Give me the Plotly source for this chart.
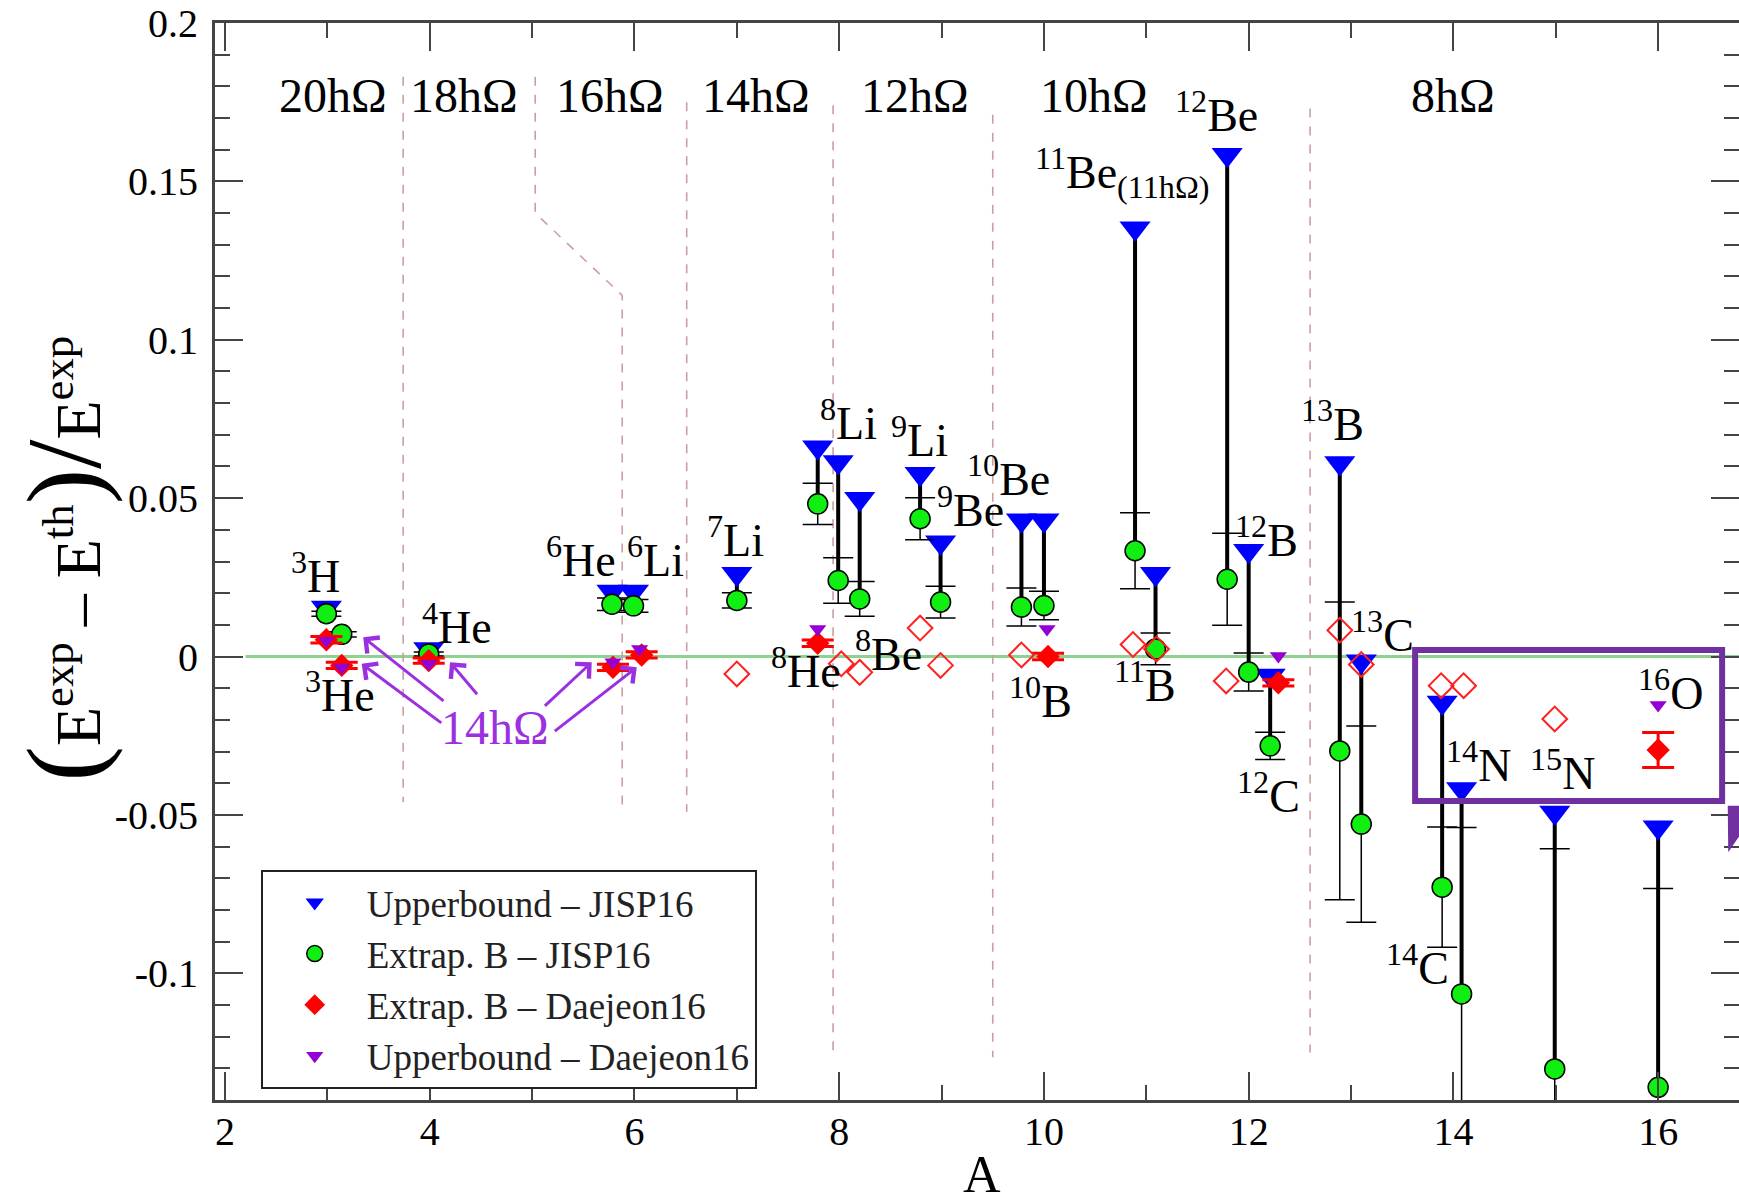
import plotly.graph_objects as go

FONT = "Liberation Serif, Times New Roman, serif"

# ---------------- data ----------------
# JISP16 results per nucleus (A position slightly offset to separate isobars)
jisp_nuclei = ["3H", "3He", "4He", "6He", "6Li", "7Li", "8He", "8Li", "8Be", "9Li", "9Be",
               "10Be", "10B", "11Be", "11B", "12Be", "12B", "12C", "13B", "13C", "14C",
               "14N", "15N", "16O"]
jisp_A = [2.99, 3.14, 3.99, 5.78, 5.99, 7.00, 7.79, 7.99, 8.20, 8.79, 8.99,
          9.78, 10.00, 10.89, 11.09, 11.79, 12.00, 12.21, 12.89, 13.10, 13.89,
          14.08, 14.99, 16.00]
jisp_upper = [0.0155, None, 0.0024, 0.0205, 0.0205, 0.0261, 0.0661, 0.0614, 0.0498, 0.0577, 0.0361,
              0.0430, 0.0430, 0.1352, 0.0261, 0.1584, 0.0334, -0.0060, 0.0611, -0.0015, -0.0145,
              -0.0418, -0.0492, -0.0539]
jisp_extrap = [0.0135, 0.0070, 0.0008, 0.0165, 0.0160, 0.0177, 0.0482, 0.0240, 0.0182, 0.0435, 0.0172,
               0.0156, 0.0161, 0.0334, 0.0024, 0.0244, -0.0049, -0.0282, -0.0298, -0.0529, -0.0728,
               -0.1065, -0.1302, -0.1360]
jisp_err = [0.0008, 0.0008, 0.0006, 0.0020, 0.0020, 0.0024, 0.0065, 0.0072, 0.0055, 0.0066, 0.0050,
            0.0060, 0.0045, 0.0120, 0.0050, 0.0145, 0.0060, 0.0043, 0.0470, 0.0310, 0.0190,
            0.0525, 0.0695, 0.0628]

# Daejeon16 results
dj_A = [2.99, 3.14, 3.99, 5.79, 6.07, 7.79, 10.04, 12.29, 16.00]
dj_extrap = [0.0053, -0.0028, -0.0013, -0.0034, 0.0005, 0.0042, 0.0000, -0.0083, -0.0295]
dj_err = [0.0010, 0.0010, 0.0008, 0.0010, 0.0010, 0.0010, 0.0010, 0.0010, 0.0055]
dj_upper_A = [2.99, 3.14, 3.99, 5.79, 6.05, 7.79, 10.03, 12.29, 16.00]
dj_upper = [0.0050, -0.0035, -0.0023, -0.0018, 0.0024, 0.0087, 0.0087, 0.0002, -0.0153]

# additional (open red diamonds)
open_A = [7.00, 8.02, 8.20, 8.79, 8.99, 9.78, 10.87, 11.10, 11.78, 12.89, 13.10, 13.88, 14.10, 14.99]
open_val = [-0.0055, -0.0023, -0.0050, 0.0090, -0.0028, 0.0005, 0.0038, 0.0024, -0.0077, 0.0083,
            -0.0025, -0.0092, -0.0092, -0.0197]

# N_max truncation regions
shell_text = ["20hΩ", "18hΩ", "16hΩ", "14hΩ", "12hΩ", "10hΩ", "8hΩ"]
shell_A = [3.05, 4.33, 5.76, 7.19, 8.74, 10.49, 14.0]
shell_val = 0.177
bound_x = [[3.74, 3.74], [5.03, 5.03, 5.88, 5.88], [6.51, 6.51], [7.94, 7.94], [9.50, 9.50], [12.60, 12.60]]
bound_y = [[0.183, -0.046], [0.183, 0.140, 0.114, -0.048], [0.175, -0.049], [0.174, -0.125],
           [0.171, -0.1265], [0.173, -0.125]]

# nucleus labels
nuc_text = ["<sup>3</sup>H", "<sup>3</sup>He", "<sup>4</sup>He", "<sup>6</sup>He", "<sup>6</sup>Li",
            "<sup>7</sup>Li", "<sup>8</sup>Li", "<sup>9</sup>Li", "<sup>9</sup>Be", "<sup>10</sup>Be",
            "<sup>8</sup>He", "<sup>8</sup>Be", "<sup>10</sup>B", "<sup>11</sup>Be<sub>(11hΩ)</sub>",
            "<sup>12</sup>Be", "<sup>11</sup>B", "<sup>12</sup>B", "<sup>12</sup>C", "<sup>13</sup>B",
            "<sup>13</sup>C", "<sup>14</sup>C", "<sup>14</sup>N", "<sup>15</sup>N", "<sup>16</sup>O"]
nuc_A = [2.888, 3.127, 4.264, 5.478, 6.204, 6.984, 8.089, 8.782, 9.281, 9.649, 7.677, 8.479, 9.963,
         10.765, 11.686, 10.99, 12.173, 12.195, 12.823, 13.311, 13.647, 14.243, 15.066, 16.117]
nuc_val = [0.0263, -0.0112, 0.0102, 0.0315, 0.0315, 0.0378, 0.0746, 0.0694, 0.0473, 0.0571, -0.0035,
           0.0018, -0.0130, 0.1527, 0.1720, -0.0081, 0.0378, -0.0431, 0.0743, 0.0077, -0.0974,
           -0.0333, -0.0357, -0.0105]

# 14hΩ call-out arrows (head -> tail)
arrow_head_A = [3.35, 3.335, 4.198, 5.582, 6.022]
arrow_head_val = [0.0061, -0.0023, -0.0018, -0.0018, -0.0034]
arrow_tail_A = [4.149, 4.127, 4.475, 5.110, 5.207]
arrow_tail_val = [-0.0144, -0.0213, -0.0124, -0.0160, -0.0239]
callout_A, callout_val = 4.64, -0.0224

x_ticks = [2, 4, 6, 8, 10, 12, 14, 16]
y_ticks = [-0.1, -0.05, 0, 0.05, 0.1, 0.15, 0.2]
y_ticktext = ["-0.1", "-0.05", "0", "0.05", "0.1", "0.15", "0.2"]

# ---------------- figure ----------------
fig = go.Figure()

fig.add_trace(go.Scatter(x=[2.2, 17.0], y=[0.0, 0.0], mode="lines",
                         line=dict(color="#8fd18f", width=3), showlegend=False, hoverinfo="skip"))

for bx, by in zip(bound_x, bound_y):
    fig.add_trace(go.Scatter(x=bx, y=by, mode="lines",
                             line=dict(color="#c9a0a0", width=1.6, dash="dash"),
                             showlegend=False, hoverinfo="skip"))

cx, cy = [], []
for a, u, e in zip(jisp_A, jisp_upper, jisp_extrap):
    if u is None:
        continue
    cx += [a, a, None]
    cy += [u, e, None]
fig.add_trace(go.Scatter(x=cx, y=cy, mode="lines", line=dict(color="black", width=4),
                         showlegend=False, hoverinfo="skip"))

fig.add_trace(go.Scatter(x=jisp_A, y=jisp_upper, mode="markers", name="Upperbound – JISP16",
                         text=jisp_nuclei, legendrank=1,
                         marker=dict(symbol="triangle-down", size=27, color="#0000ff",
                                     line=dict(width=0))))
fig.add_trace(go.Scatter(x=jisp_A, y=jisp_extrap, mode="markers", name="Extrap. B – JISP16",
                         text=jisp_nuclei, legendrank=2,
                         marker=dict(symbol="circle", size=20, color="#11ee11",
                                     line=dict(color="black", width=1.5)),
                         error_y=dict(type="data", array=jisp_err, color="black",
                                      thickness=1.5, width=15)))
fig.add_trace(go.Scatter(x=dj_A, y=dj_extrap, mode="markers", name="Extrap. B – Daejeon16",
                         legendrank=3,
                         marker=dict(symbol="diamond", size=18, color="#ff0000", line=dict(width=0)),
                         error_y=dict(type="data", array=dj_err, color="#ff0000",
                                      thickness=3, width=16)))
fig.add_trace(go.Scatter(x=open_A, y=open_val, mode="markers", showlegend=False,
                         marker=dict(symbol="diamond-open", size=19, color="#ff2020",
                                     line=dict(color="#ff2020", width=2))))
fig.add_trace(go.Scatter(x=dj_upper_A, y=dj_upper, mode="markers", name="Upperbound – Daejeon16",
                         legendrank=4,
                         marker=dict(symbol="triangle-down", size=15, color="#9400d3",
                                     line=dict(width=0))))

annotations = []
for t, a in zip(shell_text, shell_A):
    annotations.append(dict(x=a, y=shell_val, xref="x", yref="y", text=t, showarrow=False,
                            font=dict(family=FONT, size=48, color="black"),
                            xanchor="center", yanchor="middle"))
for t, a, v in zip(nuc_text, nuc_A, nuc_val):
    annotations.append(dict(x=a, y=v, xref="x", yref="y", text=t, showarrow=False,
                            font=dict(family=FONT, size=46, color="black"),
                            xanchor="center", yanchor="middle"))
for ha, hv, ta, tv in zip(arrow_head_A, arrow_head_val, arrow_tail_A, arrow_tail_val):
    annotations.append(dict(x=ha, y=hv, ax=ta, ay=tv, xref="x", yref="y", axref="x", ayref="y",
                            text="", showarrow=True, arrowhead=4, arrowsize=1.3, arrowwidth=3,
                            arrowcolor="#9b30e0", standoff=0, startstandoff=0))
annotations.append(dict(x=callout_A, y=callout_val, xref="x", yref="y", text="14hΩ",
                        showarrow=False, font=dict(family=FONT, size=48, color="#9b30e0"),
                        xanchor="center", yanchor="middle"))
# axis titles
annotations.append(dict(
    x=-0.099, y=0.503, xref="paper", yref="paper", textangle=-90, showarrow=False,
    xanchor="center", yanchor="middle",
    text='<span style="font-size:106px">(</span>E<sup>exp</sup> – E<sup>th</sup>'
         '<span style="font-size:106px">)/</span>E<sup>exp</sup>',
    font=dict(family=FONT, size=64, color="black")))
annotations.append(dict(
    x=0.503, y=-0.069, xref="paper", yref="paper", showarrow=False,
    xanchor="center", yanchor="middle", text="A",
    font=dict(family=FONT, size=52, color="black")))

shapes = [
    dict(type="rect", xref="x", yref="y", x0=13.626, x1=16.625, y0=0.0021, y1=-0.0456,
         line=dict(color="#7030a0", width=6), fillcolor="rgba(0,0,0,0)"),
    dict(type="path", xref="x", yref="y",
         path="M 16.68,-0.0471 L 16.85,-0.0471 L 16.85,-0.0540 L 16.685,-0.0618 Z",
         fillcolor="#7030a0", line=dict(width=0)),
]

axis_common = dict(showgrid=False, zeroline=False, showline=True, linecolor="#444", linewidth=3,
                   mirror="ticks", ticks="inside", ticklen=28, tickwidth=2, tickcolor="#444",
                   automargin=False,
                   tickfont=dict(family=FONT, size=40, color="black"))

fig.update_layout(
    width=1739, height=1203,
    margin=dict(l=215, r=0, t=23, b=103, pad=0, autoexpand=False),
    paper_bgcolor="white", plot_bgcolor="white",
    showlegend=True,
    legend=dict(x=0.030, y=0.2136, xanchor="left", yanchor="top", bgcolor="white",
                bordercolor="#222", borderwidth=2, font=dict(family=FONT, size=37, color="#222"),
                itemwidth=94, traceorder="normal"),
    xaxis=dict(range=[1.902, 16.79], tickvals=x_ticks, ticktext=[str(v) for v in x_ticks],
               minor=dict(dtick=1, tick0=0, ticks="inside", ticklen=15, tickwidth=2, tickcolor="#444"),
               ticklabelstandoff=-6,
               **axis_common),
    yaxis=dict(range=[-0.14, 0.2], tickvals=y_ticks, ticktext=y_ticktext,
               minor=dict(dtick=0.01, tick0=0, ticks="inside", ticklen=15, tickwidth=2, tickcolor="#444"),
               ticklabelstandoff=6,
               **axis_common),
    annotations=annotations,
    shapes=shapes,
    hovermode=False,
)

fig.write_html("out.html")
